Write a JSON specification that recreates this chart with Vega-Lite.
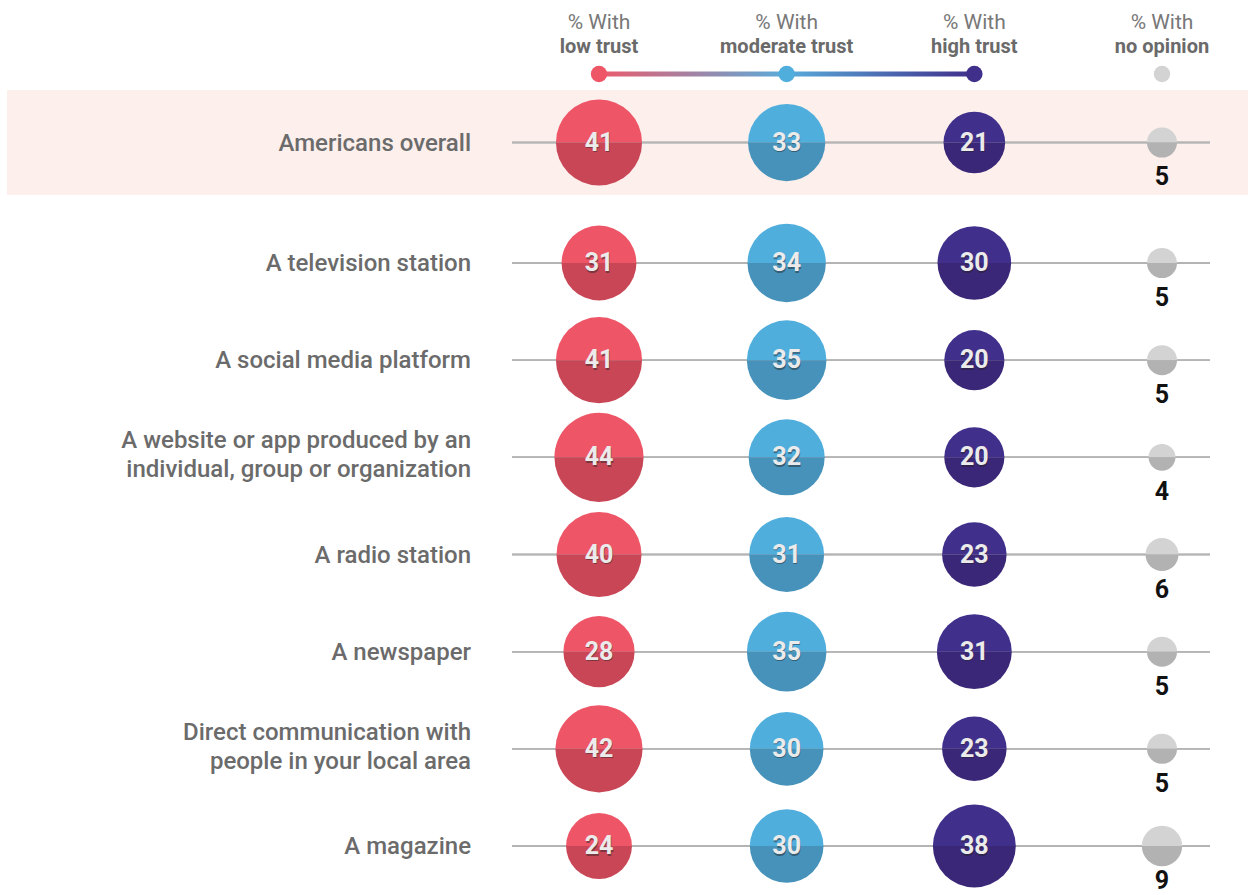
{
  "$schema": "https://vega.github.io/schema/vega-lite/v6.json",
  "padding": {"left": 7, "top": 0, "right": 0, "bottom": 0},
  "columns": 3,
  "spacing": 0,
  "bounds": "flush",
  "config": {"view": {"stroke": null}, "concat": {"spacing": 0}},
  "datasets": {
    "trust": [
      {"source": "Americans overall", "group": "top", "level": "low", "pct": 41},
      {"source": "Americans overall", "group": "top", "level": "moderate", "pct": 33},
      {"source": "Americans overall", "group": "top", "level": "high", "pct": 21},
      {"source": "Americans overall", "group": "top", "level": "none", "pct": 5},
      {"source": "A television station", "group": "rest", "level": "low", "pct": 31},
      {"source": "A television station", "group": "rest", "level": "moderate", "pct": 34},
      {"source": "A television station", "group": "rest", "level": "high", "pct": 30},
      {"source": "A television station", "group": "rest", "level": "none", "pct": 5},
      {"source": "A social media platform", "group": "rest", "level": "low", "pct": 41},
      {"source": "A social media platform", "group": "rest", "level": "moderate", "pct": 35},
      {"source": "A social media platform", "group": "rest", "level": "high", "pct": 20},
      {"source": "A social media platform", "group": "rest", "level": "none", "pct": 5},
      {"source": "A website or app produced by an\nindividual, group or organization", "group": "rest", "level": "low", "pct": 44},
      {"source": "A website or app produced by an\nindividual, group or organization", "group": "rest", "level": "moderate", "pct": 32},
      {"source": "A website or app produced by an\nindividual, group or organization", "group": "rest", "level": "high", "pct": 20},
      {"source": "A website or app produced by an\nindividual, group or organization", "group": "rest", "level": "none", "pct": 4},
      {"source": "A radio station", "group": "rest", "level": "low", "pct": 40},
      {"source": "A radio station", "group": "rest", "level": "moderate", "pct": 31},
      {"source": "A radio station", "group": "rest", "level": "high", "pct": 23},
      {"source": "A radio station", "group": "rest", "level": "none", "pct": 6},
      {"source": "A newspaper", "group": "rest", "level": "low", "pct": 28},
      {"source": "A newspaper", "group": "rest", "level": "moderate", "pct": 35},
      {"source": "A newspaper", "group": "rest", "level": "high", "pct": 31},
      {"source": "A newspaper", "group": "rest", "level": "none", "pct": 5},
      {"source": "Direct communication with\npeople in your local area", "group": "rest", "level": "low", "pct": 42},
      {"source": "Direct communication with\npeople in your local area", "group": "rest", "level": "moderate", "pct": 30},
      {"source": "Direct communication with\npeople in your local area", "group": "rest", "level": "high", "pct": 23},
      {"source": "Direct communication with\npeople in your local area", "group": "rest", "level": "none", "pct": 5},
      {"source": "A magazine", "group": "rest", "level": "low", "pct": 24},
      {"source": "A magazine", "group": "rest", "level": "moderate", "pct": 30},
      {"source": "A magazine", "group": "rest", "level": "high", "pct": 38},
      {"source": "A magazine", "group": "rest", "level": "none", "pct": 9}
    ],
    "header": [
      {"level": "low", "line1": "% With", "line2": "low trust"},
      {"level": "moderate", "line1": "% With", "line2": "moderate trust"},
      {"level": "high", "line1": "% With", "line2": "high trust"},
      {"level": "none", "line1": "% With", "line2": "no opinion"}
    ]
  },
  "concat": [
    {
      "width": 505, "height": 90,
      "data": {"values": [{}]},
      "mark": {"type": "point", "opacity": 0}
    },
    {
      "width": 698, "height": 90,
      "data": {"name": "header"},
      "layer": [
        {
          "transform": [{"filter": "datum.level === 'low'"}],
          "mark": {"type": "rect", "height": 5, "color": {"gradient": "linear", "x1": 0, "x2": 1, "y1": 0, "y2": 0, "stops": [{"offset": 0, "color": "#ec5a6c"}, {"offset": 0.5, "color": "#58acdb"}, {"offset": 1, "color": "#402e8a"}]}},
          "encoding": {
            "x": {"datum": "low", "type": "nominal", "scale": {"type": "point", "padding": 0, "domain": ["low", "moderate", "high", "none"], "range": [87, 650]}, "axis": null},
            "x2": {"datum": "high"},
            "y": {"datum": "dots", "type": "nominal", "scale": {"type": "point", "padding": 0, "domain": ["top", "bottom", "dots"], "range": [22, 74]}, "axis": null}
          }
        },
        {
          "mark": {"type": "circle", "opacity": 1},
          "encoding": {
            "x": {"field": "level", "type": "nominal", "scale": {"type": "point", "padding": 0, "domain": ["low", "moderate", "high", "none"], "range": [87, 650]}, "axis": null},
            "y": {"datum": "dots", "type": "nominal", "scale": {"type": "point", "padding": 0, "domain": ["top", "bottom", "dots"], "range": [22, 74]}, "axis": null},
            "color": {"field": "level", "type": "nominal", "scale": {"domain": ["low", "moderate", "high", "none"], "range": ["#ee5668", "#50aedd", "#41308b", "#d3d3d3"]}, "legend": null},
            "size": {"field": "level", "type": "ordinal", "scale": {"domain": ["low", "moderate", "high", "none"], "range": [270, 270, 270, 210]}, "legend": null}
          }
        },
        {
          "mark": {"type": "text", "font": "Roboto", "fontSize": 21, "fontWeight": "normal", "color": "#787878", "dy": 1},
          "encoding": {
            "x": {"field": "level", "type": "nominal", "scale": {"type": "point", "padding": 0, "domain": ["low", "moderate", "high", "none"], "range": [87, 650]}, "axis": null},
            "y": {"datum": "top", "type": "nominal", "scale": {"type": "point", "padding": 0, "domain": ["top", "bottom", "dots"], "range": [22, 74]}, "axis": null},
            "text": {"field": "line1"}
          }
        },
        {
          "mark": {"type": "text", "font": "Roboto", "fontSize": 20, "fontWeight": "bold", "color": "#6a6a6a", "dy": -1},
          "encoding": {
            "x": {"field": "level", "type": "nominal", "scale": {"type": "point", "padding": 0, "domain": ["low", "moderate", "high", "none"], "range": [87, 650]}, "axis": null},
            "y": {"datum": "bottom", "type": "nominal", "scale": {"type": "point", "padding": 0, "domain": ["top", "bottom", "dots"], "range": [22, 74]}, "axis": null},
            "text": {"field": "line2"}
          }
        }
      ]
    },
    {
      "width": 38, "height": 90,
      "data": {"values": [{}]},
      "mark": {"type": "point", "opacity": 0}
    },
    {
      "width": 505, "height": 105,
      "view": {"fill": "#fcefec", "stroke": null},
      "data": {"name": "trust"},
      "transform": [{"filter": "datum.group === 'top' && datum.level === 'low'"}],
      "mark": {"type": "text", "align": "right", "dx": -41, "dy": 1, "lineBreak": "\n", "lineHeight": 29, "font": "Roboto", "fontSize": 24, "fontWeight": 500, "color": "#6b6b6b"},
      "encoding": {
        "x": {"value": "width"},
        "y": {"field": "source", "type": "nominal", "sort": null, "axis": null},
        "text": {"field": "source"}
      }
    },
    {
      "width": 698, "height": 105,
      "view": {"fill": "#fcefec", "stroke": null},
      "data": {"name": "trust"},
      "transform": [{"filter": "datum.group === 'top'"}],
      "layer": [
        {
          "mark": {"type": "rule", "color": "#b5b5b5", "strokeWidth": 1.5},
          "encoding": {"y": {"field": "source", "type": "nominal", "sort": null, "axis": null}}
        },
        {
          "mark": {"type": "arc", "theta": -1.5708, "theta2": 1.5708},
          "encoding": {
            "x": {"field": "level", "type": "nominal", "scale": {"type": "point", "padding": 0, "domain": ["low", "moderate", "high", "none"], "range": [87, 650]}, "axis": null},
            "y": {"field": "source", "type": "nominal", "sort": null, "axis": null},
            "radius": {"field": "pct", "type": "quantitative", "stack": null, "scale": {"type": "sqrt", "zero": true, "domain": [0, 44], "range": [0, 44.6]}, "legend": null},
            "color": {"field": "level", "type": "nominal", "scale": {"domain": ["low", "moderate", "high", "none"], "range": ["#f05869", "#51aedd", "#47348f", "#cccccc"]}, "legend": null}
          }
        },
        {
          "mark": {"type": "arc", "theta": 1.5708, "theta2": 4.7124},
          "encoding": {
            "x": {"field": "level", "type": "nominal", "scale": {"type": "point", "padding": 0, "domain": ["low", "moderate", "high", "none"], "range": [87, 650]}, "axis": null},
            "y": {"field": "source", "type": "nominal", "sort": null, "axis": null},
            "radius": {"field": "pct", "type": "quantitative", "stack": null, "scale": {"type": "sqrt", "zero": true, "domain": [0, 44], "range": [0, 44.6]}, "legend": null},
            "fill": {"field": "level", "type": "nominal", "scale": {"domain": ["low", "moderate", "high", "none"], "range": ["#c94656", "#4692ba", "#3b2778", "#b2b2b2"]}, "legend": null}
          }
        },
        {
          "transform": [{"filter": "datum.level !== 'none'"}],
          "mark": {"type": "text", "font": "Roboto", "fontSize": 25, "fontWeight": "bold", "color": "#222222", "opacity": 0.45, "dy": 1.5, "dx": 0.5},
          "encoding": {
            "x": {"field": "level", "type": "nominal", "scale": {"type": "point", "padding": 0, "domain": ["low", "moderate", "high", "none"], "range": [87, 650]}, "axis": null},
            "y": {"field": "source", "type": "nominal", "sort": null, "axis": null},
            "text": {"field": "pct"}
          }
        },
        {
          "transform": [{"filter": "datum.level !== 'none'"}],
          "mark": {"type": "text", "font": "Roboto", "fontSize": 25, "fontWeight": "bold", "color": "#ebebeb"},
          "encoding": {
            "x": {"field": "level", "type": "nominal", "scale": {"type": "point", "padding": 0, "domain": ["low", "moderate", "high", "none"], "range": [87, 650]}, "axis": null},
            "y": {"field": "source", "type": "nominal", "sort": null, "axis": null},
            "text": {"field": "pct"}
          }
        },
        {
          "transform": [{"filter": "datum.level === 'none'"}],
          "mark": {"type": "text", "font": "Roboto", "fontSize": 25, "fontWeight": "bold", "color": "#111111", "dy": 34},
          "encoding": {
            "x": {"field": "level", "type": "nominal", "scale": {"type": "point", "padding": 0, "domain": ["low", "moderate", "high", "none"], "range": [87, 650]}, "axis": null},
            "y": {"field": "source", "type": "nominal", "sort": null, "axis": null},
            "text": {"field": "pct"}
          }
        }
      ]
    },
    {
      "width": 38, "height": 105,
      "view": {"fill": "#fcefec", "stroke": null},
      "data": {"values": [{}]},
      "mark": {"type": "point", "opacity": 0}
    },
    {
      "width": 505, "height": 700,
      "data": {"name": "trust"},
      "transform": [{"filter": "datum.group === 'rest' && datum.level === 'low'"}],
      "encoding": {
        "x": {"value": "width"},
        "y": {"field": "source", "type": "nominal", "sort": null, "scale": {"type": "point", "padding": 0, "range": [68, 651], "domain": ["A television station", "A social media platform", "A website or app produced by an\nindividual, group or organization", "A radio station", "A newspaper", "Direct communication with\npeople in your local area", "A magazine"]}, "axis": null},
        "text": {"field": "source"}
      },
      "layer": [
        {
          "transform": [{"filter": {"not": {"field": "source", "oneOf": ["A website or app produced by an\nindividual, group or organization", "Direct communication with\npeople in your local area"]}}}],
          "mark": {"type": "text", "align": "right", "dx": -41, "dy": 1, "font": "Roboto", "fontSize": 24, "fontWeight": 500, "color": "#6b6b6b"}
        },
        {
          "transform": [{"filter": {"field": "source", "oneOf": ["A website or app produced by an\nindividual, group or organization", "Direct communication with\npeople in your local area"]}}],
          "mark": {"type": "text", "align": "right", "dx": -41, "dy": -16, "lineBreak": "\n", "lineHeight": 29, "font": "Roboto", "fontSize": 24, "fontWeight": 500, "color": "#6b6b6b"}
        }
      ]
    },
    {
      "width": 698, "height": 700,
      "data": {"name": "trust"},
      "transform": [{"filter": "datum.group === 'rest'"}],
      "encoding": {
        "x": {"field": "level", "type": "nominal", "scale": {"type": "point", "padding": 0, "domain": ["low", "moderate", "high", "none"], "range": [87, 650]}, "axis": null},
        "y": {"field": "source", "type": "nominal", "sort": null, "scale": {"type": "point", "padding": 0, "range": [68, 651], "domain": ["A television station", "A social media platform", "A website or app produced by an\nindividual, group or organization", "A radio station", "A newspaper", "Direct communication with\npeople in your local area", "A magazine"]}, "axis": null}
      },
      "layer": [
        {
          "mark": {"type": "rule", "color": "#b5b5b5", "strokeWidth": 1.5},
          "encoding": {"x": {"value": 0}, "x2": {"value": "width"}}
        },
        {
          "mark": {"type": "arc", "theta": -1.5708, "theta2": 1.5708},
          "encoding": {
            "radius": {"field": "pct", "type": "quantitative", "stack": null, "scale": {"type": "sqrt", "zero": true, "domain": [0, 44], "range": [0, 44.6]}, "legend": null},
            "color": {"field": "level", "type": "nominal", "scale": {"domain": ["low", "moderate", "high", "none"], "range": ["#f05869", "#51aedd", "#47348f", "#cccccc"]}, "legend": null}
          }
        },
        {
          "mark": {"type": "arc", "theta": 1.5708, "theta2": 4.7124},
          "encoding": {
            "radius": {"field": "pct", "type": "quantitative", "stack": null, "scale": {"type": "sqrt", "zero": true, "domain": [0, 44], "range": [0, 44.6]}, "legend": null},
            "fill": {"field": "level", "type": "nominal", "scale": {"domain": ["low", "moderate", "high", "none"], "range": ["#c94656", "#4692ba", "#3b2778", "#b2b2b2"]}, "legend": null}
          }
        },
        {
          "transform": [{"filter": "datum.level !== 'none'"}],
          "mark": {"type": "text", "font": "Roboto", "fontSize": 25, "fontWeight": "bold", "color": "#222222", "opacity": 0.45, "dy": 1.5, "dx": 0.5},
          "encoding": {"text": {"field": "pct"}}
        },
        {
          "transform": [{"filter": "datum.level !== 'none'"}],
          "mark": {"type": "text", "font": "Roboto", "fontSize": 25, "fontWeight": "bold", "color": "#ebebeb"},
          "encoding": {"text": {"field": "pct"}}
        },
        {
          "transform": [{"filter": "datum.level === 'none'"}],
          "mark": {"type": "text", "font": "Roboto", "fontSize": 25, "fontWeight": "bold", "color": "#111111", "dy": 35},
          "encoding": {"text": {"field": "pct"}}
        }
      ]
    }
  ]
}
